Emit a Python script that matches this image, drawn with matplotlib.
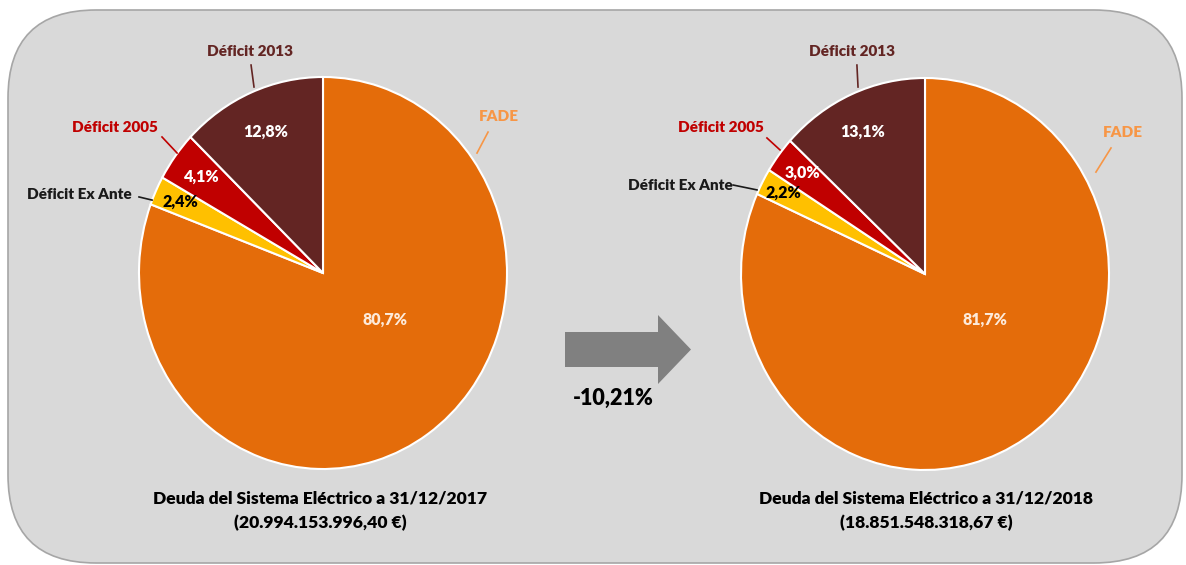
import matplotlib
matplotlib.use("Agg")
import matplotlib.pyplot as plt
from matplotlib.patches import FancyBboxPatch, Polygon

# ---------------- data ----------------
categories = ['FADE', 'Déficit Ex Ante', 'Déficit 2005', 'Déficit 2013']
share_2017 = [80.7, 2.4, 4.1, 12.8]
share_2018 = [81.7, 2.2, 3.0, 13.1]
titles = ['Deuda del Sistema Eléctrico a 31/12/2017',
          'Deuda del Sistema Eléctrico a 31/12/2018']
totals = ['(20.994.153.996,40 €)', '(18.851.548.318,67 €)']
change_pct = -10.21

# ---------------- style ----------------
slice_colors = ['#E46C0A', '#FFC000', '#C00000', '#632523']
label_colors = ['#F79646', '#1a1a1a', '#C00000', '#632523']
pct_colors = ['#FDEADA', '#000000', '#FFFFFF', '#FFFFFF']
FONT = ['Lato', 'DejaVu Sans']
plt.rcParams['font.family'] = FONT
WEIGHT = 'heavy'

W, H = 1186, 565
fig = plt.figure(figsize=(W / 100, H / 100), dpi=100)
fig.patch.set_facecolor('white')

# background axes in pixel coordinates
ax_bg = fig.add_axes([0, 0, 1, 1], zorder=0)
ax_bg.set_xlim(0, W)
ax_bg.set_ylim(H, 0)
ax_bg.axis('off')
box = FancyBboxPatch((8, 10), 1174, 553, boxstyle="round,pad=0,rounding_size=88",
                     facecolor='#D9D9D9', edgecolor='#A6A6A6', linewidth=1.2)
ax_bg.add_patch(box)
arrow = Polygon([(565, 332), (658, 332), (658, 315), (691, 349.5),
                 (658, 384), (658, 367), (565, 367)],
                closed=True, facecolor='#808080', edgecolor='none')
ax_bg.add_patch(arrow)
ax_bg.text(613, 398, f"{change_pct:.2f}".replace('.', ',') + '%', ha='center', va='center',
           fontsize=15.5, fontweight=WEIGHT, color='#000000')

# pie geometry (pixels)
RX, RY = 184, 196
pies = [
    dict(cx=323, cy=273, values=share_2017,
         label_pos=[(0.957, 0.796), (-1.326, 0.398), (-1.130, 0.740), (-0.397, 1.128)],
         leaders=[((0.897, 0.719), (0.837, 0.612)), ((-1.0, 0.388), (-0.929, 0.372)),
                  ((-0.875, 0.694), (-0.793, 0.612)), ((-0.391, 1.061), (-0.375, 0.949))],
         pct_pos=[(0.337, -0.240), (-0.777, 0.362), (-0.658, 0.490), (-0.310, 0.719)]),
    dict(cx=925, cy=274, values=share_2018,
         label_pos=[(1.076, 0.724), (-1.332, 0.454), (-1.109, 0.745), (-0.397, 1.133)],
         leaders=[((1.011, 0.643), (0.929, 0.520)), ((-1.043, 0.454), (-0.913, 0.429)),
                  ((-0.859, 0.694), (-0.788, 0.633)), ((-0.370, 1.066), (-0.364, 0.954))],
         pct_pos=[(0.326, -0.235), (-0.772, 0.413), (-0.668, 0.515), (-0.337, 0.724)]),
]

for i, p in enumerate(pies):
    left = (p['cx'] - RX) / W
    bottom = (H - p['cy'] - RY) / H
    ax = fig.add_axes([left, bottom, 2 * RX / W, 2 * RY / H], zorder=1)
    wedges, _ = ax.pie(p['values'], startangle=90, counterclock=False,
                       colors=slice_colors,
                       wedgeprops=dict(edgecolor='white', linewidth=1.5))
    for w in wedges:
        w.set_clip_on(False)
    ax.set_aspect('auto')
    ax.set_xlim(-1, 1)
    ax.set_ylim(-1, 1)
    ax.axis('off')
    ax.patch.set_alpha(0)
    for k, cat in enumerate(categories):
        lx, ly = p['label_pos'][k]
        ax.text(lx, ly, cat, ha='center', va='center', fontsize=11,
                fontweight=WEIGHT, color=label_colors[k], clip_on=False)
        (x0, y0), (x1, y1) = p['leaders'][k]
        ax.plot([x0, x1], [y0, y1], color=label_colors[k], lw=1.2, clip_on=False)
        px, py = p['pct_pos'][k]
        ax.text(px, py, f"{p['values'][k]:.1f}".replace('.', ',') + '%',
                ha='center', va='center', fontsize=11.5, fontweight=WEIGHT,
                color=pct_colors[k], clip_on=False)

# captions below pies
for cx, t, tot in zip([320, 926], titles, totals):
    ax_bg.text(cx, 498, t, ha='center', va='center', fontsize=12.6,
               fontweight=WEIGHT, color='#000000', zorder=3)
    ax_bg.text(cx, 523, tot, ha='center', va='center', fontsize=12.6,
               fontweight=WEIGHT, color='#000000', zorder=3)

fig.savefig('out.png', dpi=100, facecolor='white')
